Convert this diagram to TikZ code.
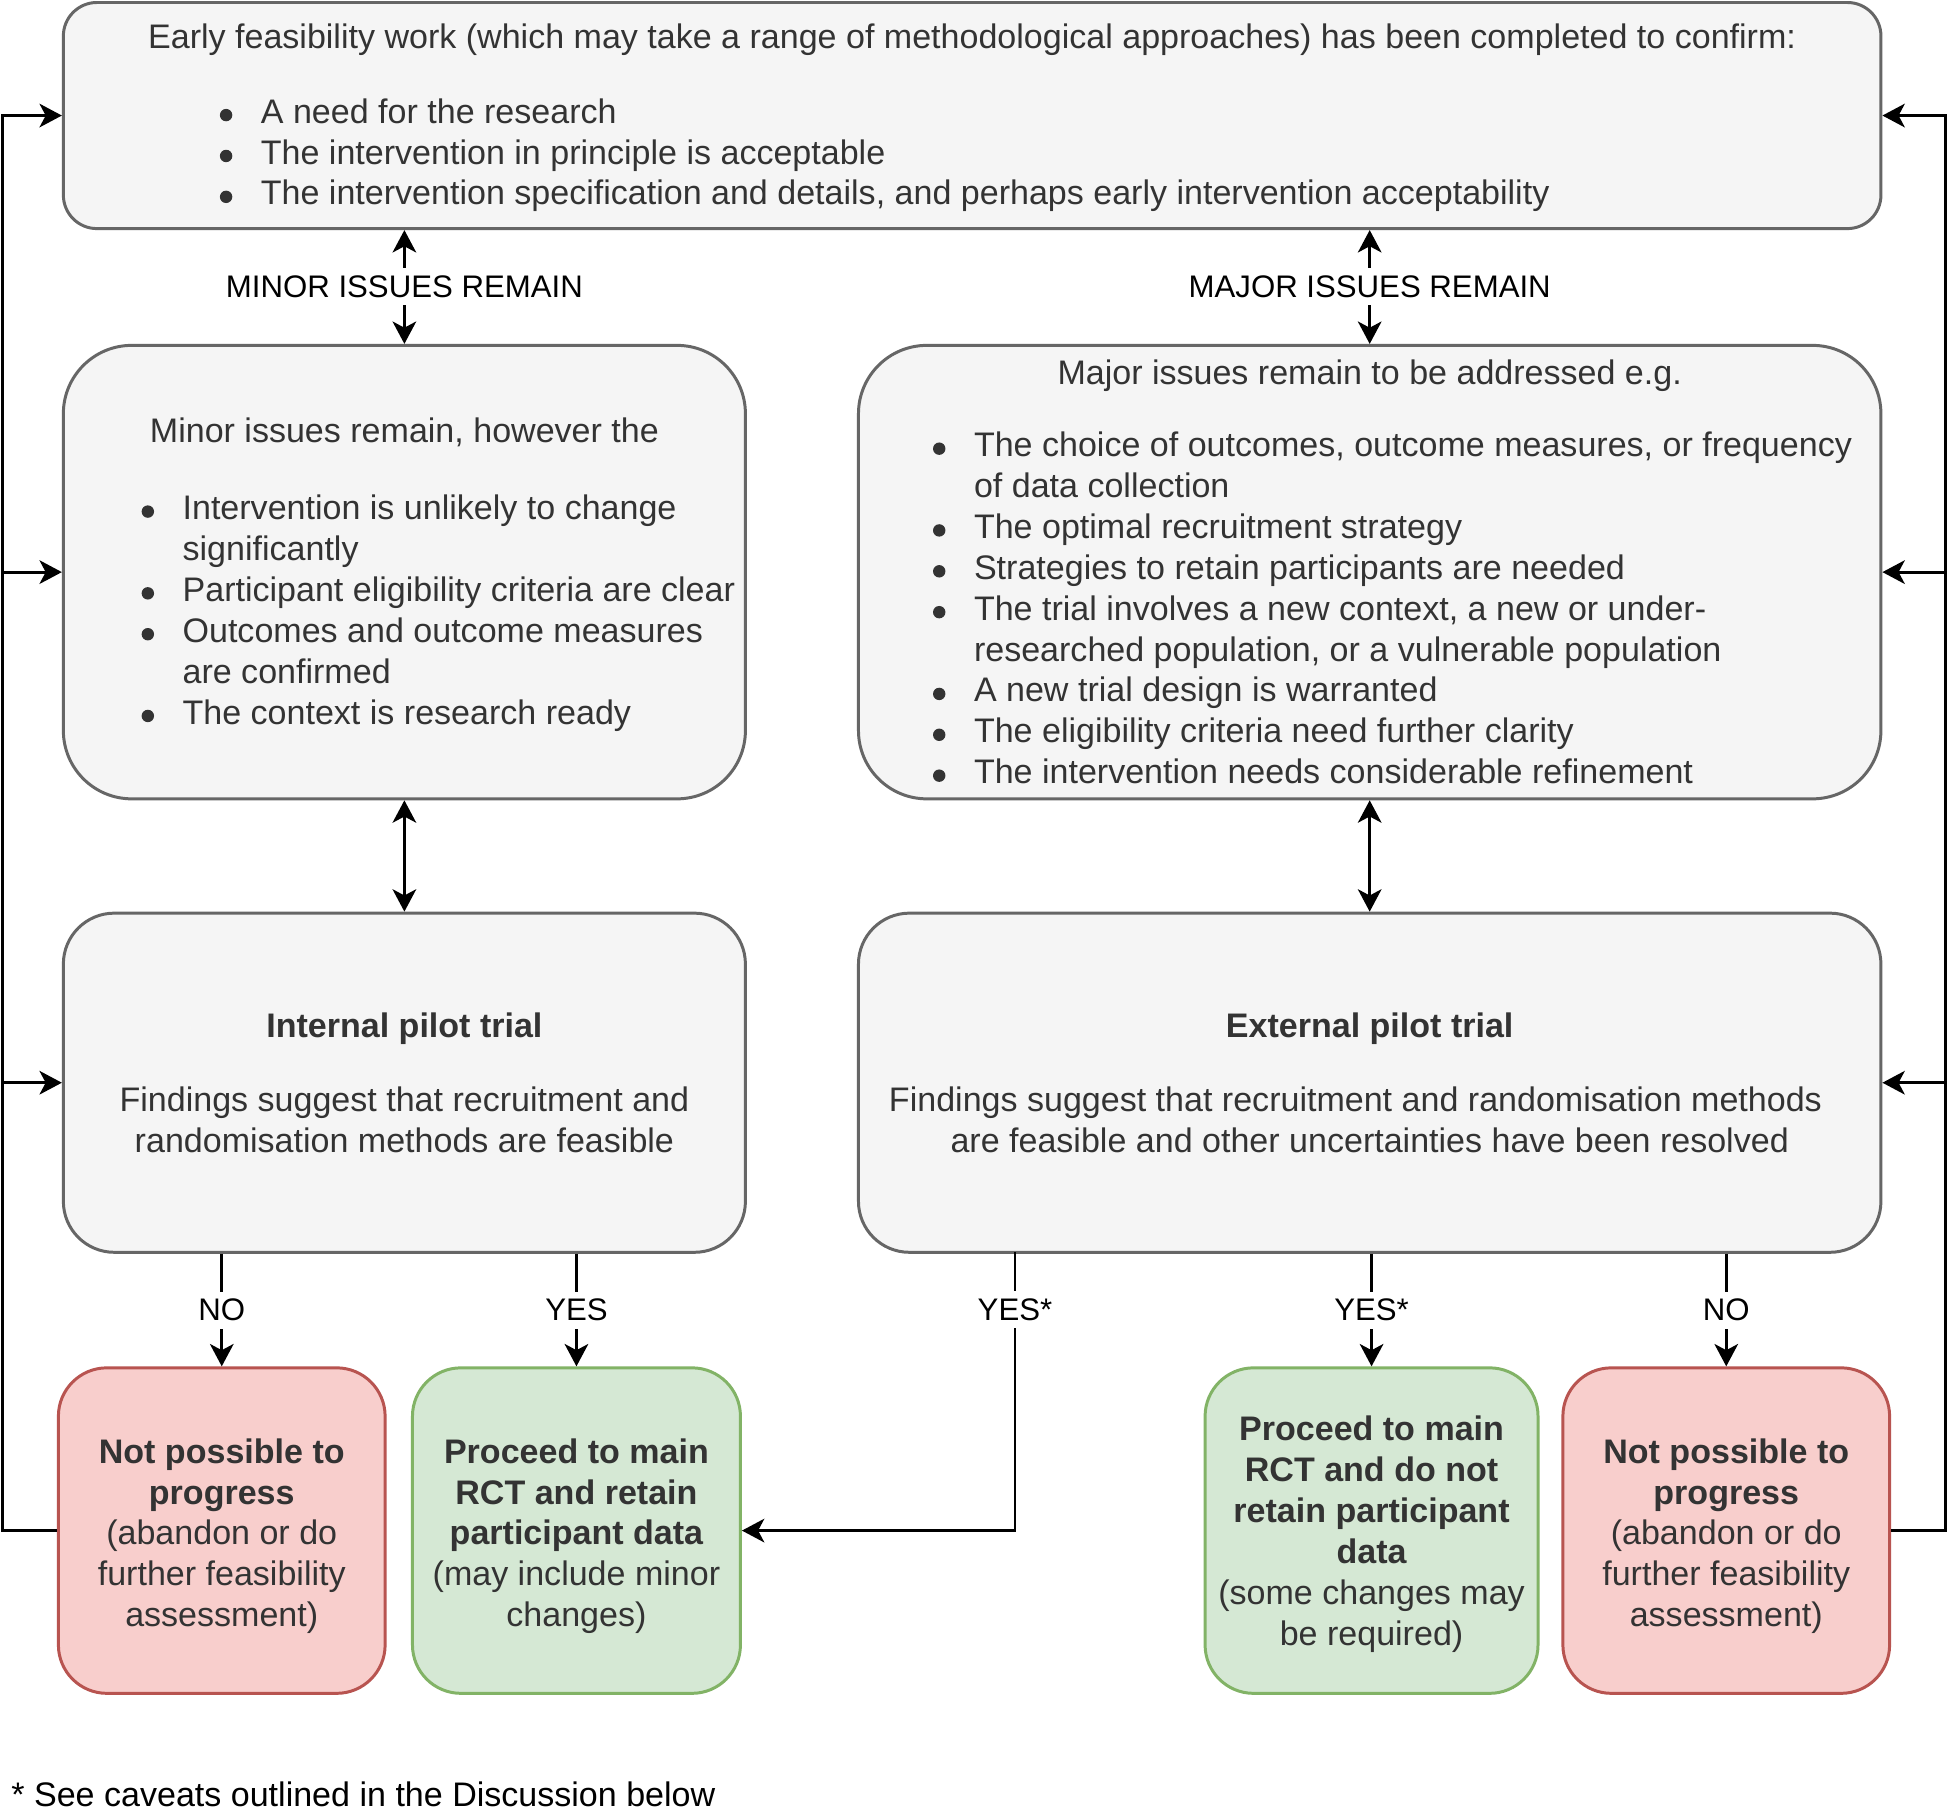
\documentclass[tikz,border=0pt]{standalone}
\usepackage{fontspec}
\setmainfont{Liberation Sans}
\usetikzlibrary{arrows.meta,calc}
\definecolor{boxfill}{HTML}{F5F5F5}
\definecolor{boxline}{HTML}{666666}
\definecolor{txt}{HTML}{333333}
\definecolor{redfill}{HTML}{F8CECC}
\definecolor{redline}{HTML}{B85450}
\definecolor{grnfill}{HTML}{D5E8D4}
\definecolor{grnline}{HTML}{82B366}
\newcommand{\bodyfont}{\fontsize{27.4}{32.9}\selectfont}
\newcommand{\lblfont}{\fontsize{25.1}{30}\selectfont}
\newcommand{\bigdot}{\makebox[0pt][c]{\tikz[baseline=0pt]\fill[txt] (0pt,6.5pt) circle[radius=5pt];}}
\newcommand{\bul}[2]{\noindent\hangindent=#1\relax\hangafter=1\relax\hspace*{\dimexpr#1-28pt\relax}\bigdot\hspace*{28pt}#2\par}
\hbadness=10000 \hfuzz=200pt \vbadness=10000
\tikzset{
  base/.style={rectangle, rounded corners=#1, draw, line width=2.4pt, inner sep=0pt, text=txt, font=\bodyfont},
  gbox/.style={base=#1, fill=boxfill, draw=boxline},
  rbox/.style={base=#1, fill=redfill, draw=redline},
  grbox/.style={base=#1, fill=grnfill, draw=grnline},
  arr/.style={-{Stealth[length=18pt,width=19pt,inset=5pt]}, line width=2.3pt},
  darr/.style={{Stealth[length=18pt,width=19pt,inset=5pt]}-{Stealth[length=18pt,width=19pt,inset=5pt]}, line width=2.3pt},
  lbl/.style={fill=white, font=\lblfont, inner xsep=2pt, inner ysep=6pt, text=black},
}
\begin{document}
\begin{tikzpicture}[x=1pt,y=-1pt]
\fill[white] (0,0) rectangle (1568,1460);
\useasboundingbox (0,0) rectangle (1568,1460);

% boxes
\node[gbox=27pt, minimum width=1463pt, minimum height=182pt] (top) at (782.5,93)
 {\parbox{1463pt}{\vspace*{4pt}\centering Early feasibility work (which may take a range of methodological approaches) has been completed to confirm:\par\vspace{27pt}\raggedright
 \bul{159pt}{A need for the research}
 \bul{159pt}{The intervention in principle is acceptable}
 \bul{159pt}{The intervention specification and details, and perhaps early intervention acceptability}}};

\node[gbox=55pt, minimum width=549pt, minimum height=365pt] (minor) at (325.5,460.5)
 {\parbox{549pt}{\vspace*{4pt}\centering Minor issues remain, however the\par\vspace{29pt}\raggedright
 \bul{96pt}{Intervention is unlikely to change\newline significantly}
 \bul{96pt}{Participant eligibility criteria are clear}
 \bul{96pt}{Outcomes and outcome measures\newline are confirmed}
 \bul{96pt}{The context is research ready}}};

\node[gbox=55pt, minimum width=823pt, minimum height=365pt] (major) at (1102.5,460.5)
 {\parbox{823pt}{\centering Major issues remain to be addressed e.g.\par\vspace{25pt}\raggedright
 \bul{93pt}{The choice of outcomes, outcome measures, or frequency\newline of data collection}
 \bul{93pt}{The optimal recruitment strategy}
 \bul{93pt}{Strategies to retain participants are needed}
 \bul{93pt}{The trial involves a new context, a new or under-\newline researched population, or a vulnerable population}
 \bul{93pt}{A new trial design is warranted}
 \bul{93pt}{The eligibility criteria need further clarity}
 \bul{93pt}{The intervention needs considerable refinement}}};

\node[gbox=41pt, minimum width=549pt, minimum height=273pt] (int) at (325.5,871.5)
 {\parbox{549pt}{\centering{\bfseries Internal pilot trial}\par\vspace{27pt}Findings suggest that recruitment and\\randomisation methods are feasible}};

\node[gbox=41pt, minimum width=823pt, minimum height=273pt] (ext) at (1102.5,871.5)
 {\parbox{823pt}{\centering{\bfseries External pilot trial}\par\vspace{27pt}Findings suggest that recruitment and randomisation methods\kern23pt\relax\\are feasible and other uncertainties have been resolved}};

\node[rbox=39pt, minimum width=263pt, minimum height=262pt] (redL) at (178.5,1232)
 {\parbox{263pt}{\vspace*{9pt}\centering{\bfseries Not possible to\\progress}\\(abandon or do\\further feasibility\\assessment)}};

\node[grbox=39pt, minimum width=264pt, minimum height=262pt] (grnL) at (464,1232)
 {\parbox{264pt}{\vspace*{9pt}\centering{\bfseries Proceed to main\\RCT and retain\\participant data}\\(may include minor\\changes)}};

\node[grbox=39pt, minimum width=268pt, minimum height=262pt] (grnR) at (1104,1232)
 {\parbox{268pt}{\vspace*{6pt}\centering{\bfseries Proceed to main\\RCT and do not\\retain participant\\data}\\(some changes may\\be required)}};

\node[rbox=39pt, minimum width=263pt, minimum height=262pt] (redR) at (1389.5,1232)
 {\parbox{263pt}{\vspace*{9pt}\centering{\bfseries Not possible to\\progress}\\(abandon or do\\further feasibility\\assessment)}};

% loop coordinates
\coordinate (Lx) at (2,0);
\coordinate (Rx) at (1566,0);
\coordinate (ys) at (817,1008);

% connectors
\draw[darr] (minor.north |- top.south) -- (minor.north) node[midway, lbl] (lminor) {MINOR ISSUES REMAIN};
\draw[darr] (major.north |- top.south) -- (major.north) node[midway, lbl] (lmajor) {MAJOR ISSUES REMAIN};
\draw[darr] (minor.south) -- (int.north);
\draw[darr] (major.south) -- (ext.north);

\draw[arr] (int.south -| redL.north) -- (redL.north) node[midway, lbl] (lno1) {NO};
\draw[arr] (int.south -| grnL.north) -- (grnL.north) node[midway, lbl] (lyes1) {YES};
\draw[arr] (ys) |- (grnL.east);
\node[lbl] (lyes2) at (817,1054) {YES*};
\draw[arr] (ext.south -| grnR.north) -- (grnR.north) node[midway, lbl] (lyes3) {YES*};
\draw[arr] (ext.south -| redR.north) -- (redR.north) node[midway, lbl] (lno2) {NO};

\draw[arr] (redL.west) -| (Lx |- top.west) -- (top.west);
\draw[arr] (Lx |- minor.west) -- (minor.west);
\draw[arr] (Lx |- int.west) -- (int.west);

\draw[arr] (redR.east) -| (Rx |- top.east) -- (top.east);
\draw[arr] (Rx |- major.east) -- (major.east);
\draw[arr] (Rx |- ext.east) -- (ext.east);

\node[anchor=base west, inner sep=0pt, font=\bodyfont, text=black] (foot) at (9,1454) {* See caveats outlined in the Discussion below};
\end{tikzpicture}
\end{document}
